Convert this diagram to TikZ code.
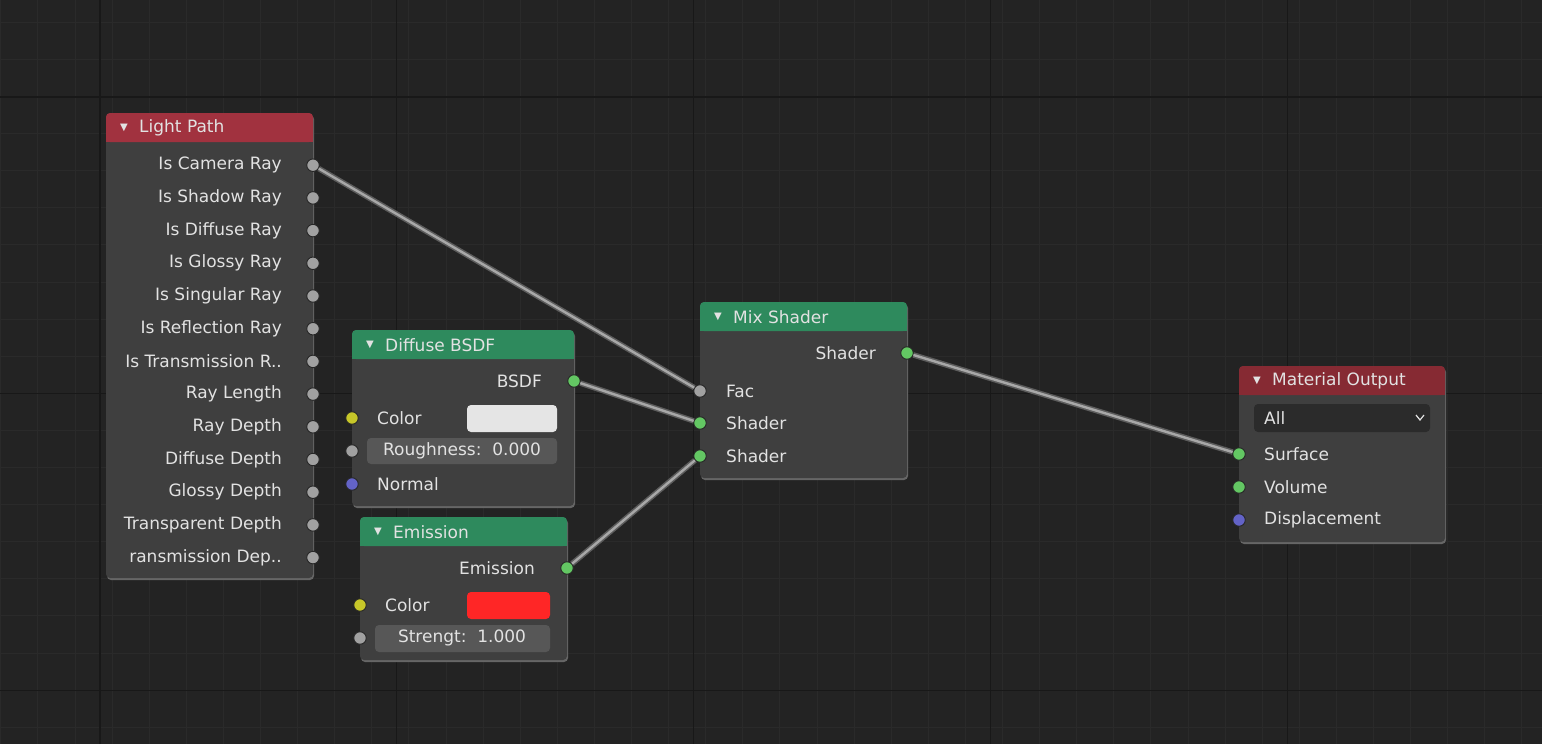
\documentclass[tikz,border=0pt]{standalone}
\usepackage{fontspec}
\setmainfont{DejaVu Sans}
\definecolor{bg}{HTML}{232323}
\definecolor{gridminor}{HTML}{2A2A2A}
\definecolor{gridmajor}{HTML}{181818}
\definecolor{nodegrey}{HTML}{3F3F3F}
\definecolor{fieldgrey}{HTML}{575757}
\definecolor{dropgrey}{HTML}{2B2B2B}
\definecolor{txt}{HTML}{E2E2E2}
\definecolor{headred}{HTML}{A1323F}
\definecolor{headdark}{HTML}{862A33}
\definecolor{headgreen}{HTML}{2E8A5D}
\definecolor{sgrey}{HTML}{A1A1A1}
\definecolor{sgreen}{HTML}{63C763}
\definecolor{syellow}{HTML}{C7C729}
\definecolor{spurple}{HTML}{6363C7}
\definecolor{linkgrey}{HTML}{5C5C5C}
\definecolor{linklight}{HTML}{A8A8A8}

\tikzset{
    lbl/.style={text=txt, font=\fontsize{17}{20}\selectfont, inner sep=0pt},
    sock/.style={circle, draw=black!85, line width=0.9pt, inner sep=0pt, minimum size=12.5pt, fill=#1},
    field/.style={fill=fieldgrey, rounded corners=4pt},
    link/.style={line width=5.5pt, draw=linkgrey},
    linkc/.style={line width=2.4pt, draw=linklight},
}

% box, header and title of one node
\newcommand\bnode[7]{%
    \fill[black!60, rounded corners=4pt] (#2+1,#3+2) rectangle (#4+1,#5+2);
    \fill[nodegrey, rounded corners=4pt] (#2,#3) rectangle (#4,#5);
    \fill[#6, rounded corners=4pt] (#2,#3) rectangle (#4,#3+29);
    \fill[#6] (#2,#3+20) rectangle (#4,#3+29);
    \node[lbl, font=\fontsize{10}{10}\selectfont] at (#2+18,#3+15) {▼};
    \node[lbl, anchor=west] (#1) at (#2+33,#3+15) {#7};
}

\begin{document}
\begin{tikzpicture}[x=1pt, y=-1pt]
    \fill[bg] (0,0) rectangle (1542,744);
    \useasboundingbox (0,0) rectangle (1542,744);
    \foreach \i in {0,...,42} {
        \draw[gridminor] (\i*37.1+0.5,0) -- (\i*37.1+0.5,744);
    }
    \foreach \i in {0,...,20} {
        \draw[gridminor] (0,\i*37.1+22) -- (1542,\i*37.1+22);
    }
    \foreach \i in {0,...,5} {
        \draw[gridmajor, line width=1.2pt] (\i*296.8+100,0) -- (\i*296.8+100,744);
    }
    \foreach \i in {0,...,2} {
        \draw[gridmajor, line width=1.2pt] (0,\i*296.8+97) -- (1542,\i*296.8+97);
    }

    % Light Path
    \bnode{lp}{106}{113}{313}{578}{headred}{Light Path}
    \foreach \t [count=\k] in {Is Camera Ray, Is Shadow Ray, Is Diffuse Ray, Is Glossy Ray,
        Is Singular Ray, Is Reflection Ray, Is Transmission R.., Ray Length, Ray Depth,
        Diffuse Depth, Glossy Depth, Transparent Depth, ransmission Dep..} {
        \node[lbl, anchor=east] (lp\k) at (282,132.5+32.7*\k) {\t};
        \node[sock=sgrey] (lps\k) at (313,132.5+32.7*\k) {};
    }

    % Diffuse BSDF
    \bnode{dif}{352}{330}{574}{506}{headgreen}{Diffuse BSDF}
    \node[lbl, anchor=east] (difout) at (542,381) {BSDF};
    \node[sock=sgreen] (difs) at (574,381) {};
    \node[lbl, anchor=west] (difcol) at (377,418) {Color};
    \node[sock=syellow] (difcols) at (352,418) {};
    \fill[field, fill=white!90!black] (467,405) rectangle (557,432);
    \fill[field] (367,438) rectangle (557,464);
    \node[lbl] (difrough) at (462,451) {Roughness:\ \ 0.000};
    \node[sock=sgrey] (difroughs) at (352,451) {};
    \node[lbl, anchor=west] (difnorm) at (377,484) {Normal};
    \node[sock=spurple] (difnorms) at (352,484) {};

    % Emission
    \bnode{em}{360}{517}{567}{660}{headgreen}{Emission}
    \node[lbl, anchor=east] (emout) at (535,568) {Emission};
    \node[sock=sgreen] (ems) at (567,568) {};
    \node[lbl, anchor=west] (emcol) at (385,605) {Color};
    \node[sock=syellow] (emcols) at (360,605) {};
    \fill[field, fill=red!85!white] (467,592) rectangle (550,619);
    \fill[field] (375,625) rectangle (550,652);
    \node[lbl] (emstr) at (462,638) {Strengt:\ \ 1.000};
    \node[sock=sgrey] (emstrs) at (360,638) {};

    % Mix Shader
    \bnode{mix}{700}{302}{907}{478}{headgreen}{Mix Shader}
    \node[lbl, anchor=east] (mixout) at (876,353) {Shader};
    \node[sock=sgreen] (mixs) at (907,353) {};
    \node[lbl, anchor=west] (mixfac) at (726,391) {Fac};
    \node[sock=sgrey] (mixfacs) at (700,391) {};
    \node[lbl, anchor=west] (mixa) at (726,423) {Shader};
    \node[sock=sgreen] (mixas) at (700,423) {};
    \node[lbl, anchor=west] (mixb) at (726,456) {Shader};
    \node[sock=sgreen] (mixbs) at (700,456) {};

    % Material Output
    \bnode{mo}{1239}{366}{1445}{542}{headdark}{Material Output}
    \fill[dropgrey, rounded corners=4pt] (1254,404) rectangle (1430,432);
    \node[lbl, anchor=west] (moall) at (1264,418) {All};
    \draw[txt, line width=1.2pt] (1416,415) -- (1420,420) -- (1424,415);
    \node[lbl, anchor=west] (mosurf) at (1264,454) {Surface};
    \node[sock=sgreen] (mosurfs) at (1239,454) {};
    \node[lbl, anchor=west] (movol) at (1264,487) {Volume};
    \node[sock=sgreen] (movols) at (1239,487) {};
    \node[lbl, anchor=west] (modisp) at (1264,520) {Displacement};
    \node[sock=spurple] (modisps) at (1239,520) {};

    % links
    \foreach \a/\b in {lps1/mixfacs, difs/mixas, ems/mixbs, mixs/mosurfs} {
        \draw[link] (\a) -- (\b);
        \draw[linkc] (\a) -- (\b);
    }
\end{tikzpicture}
\end{document}
